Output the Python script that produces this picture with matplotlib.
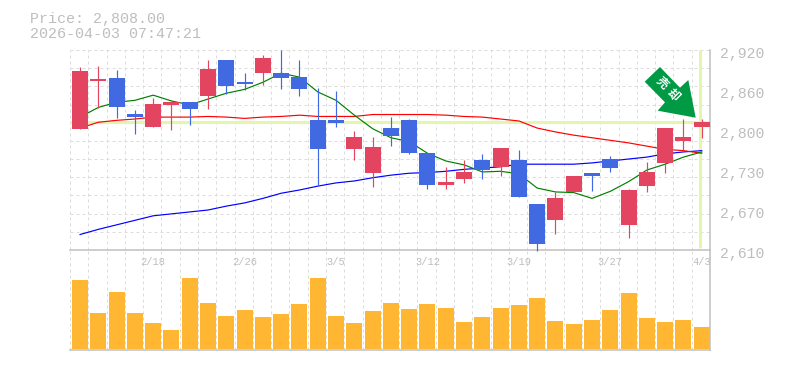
"""Candlestick chart with moving averages and a volume panel."""

import matplotlib

matplotlib.use("Agg")
import matplotlib.pyplot as plt
from matplotlib.patches import Polygon

price_label = "Price: 2,808.00"
stamp_label = "2026-04-03 07:47:21"
signal_label = "売却"

opens = [2798, 2872, 2877, 2821, 2801, 2835, 2839, 2849, 2905, 2870, 2884, 2884, 2878, 2811, 2811,
         2767, 2730, 2799, 2811, 2760, 2711, 2720, 2749, 2739, 2749, 2681, 2657, 2700, 2729, 2751,
         2649, 2709, 2745, 2779, 2801]
closes = [2888, 2875, 2832, 2816, 2836, 2839, 2829, 2891, 2864, 2867, 2907, 2877, 2860, 2767, 2807,
          2785, 2770, 2787, 2760, 2711, 2715, 2731, 2734, 2768, 2692, 2619, 2691, 2724, 2725, 2737,
          2703, 2731, 2799, 2785, 2808]
highs = [2894, 2895, 2889, 2827, 2846, 2841, 2839, 2904, 2905, 2884, 2912, 2920, 2905, 2861, 2856,
         2795, 2785, 2816, 2813, 2760, 2738, 2750, 2759, 2768, 2765, 2681, 2700, 2724, 2729, 2756,
         2705, 2746, 2799, 2813, 2813]
lows = [2798, 2830, 2814, 2790, 2801, 2796, 2804, 2829, 2852, 2858, 2866, 2860, 2849, 2710, 2801,
        2750, 2708, 2771, 2759, 2705, 2705, 2714, 2720, 2725, 2692, 2609, 2635, 2700, 2701, 2731,
        2629, 2700, 2729, 2765, 2784]

ma_short = [2816, 2831, 2839, 2842, 2850, 2841, 2835, 2844, 2853, 2859, 2870, 2884, 2878, 2855, 2842,
            2819, 2798, 2784, 2778, 2760, 2748, 2742, 2731, 2732, 2728, 2706, 2700, 2699, 2690, 2701,
            2716, 2734, 2743, 2754, 2762]
ma_mid = [2799, 2808, 2811, 2813, 2816, 2816, 2816, 2817, 2816, 2814, 2816, 2817, 2819, 2817, 2817,
          2817, 2820, 2820, 2820, 2820, 2819, 2817, 2816, 2813, 2810, 2799, 2793, 2788, 2784, 2780,
          2776, 2771, 2766, 2764, 2760]
ma_long = [2634, 2642, 2649, 2656, 2663, 2666, 2669, 2672, 2678, 2683, 2690, 2698, 2703, 2709, 2714,
           2717, 2722, 2726, 2729, 2730, 2732, 2735, 2737, 2739, 2743, 2743, 2743, 2743, 2745, 2748,
           2751, 2754, 2759, 2762, 2764]

volume = [69, 36, 57, 36, 26, 19, 71, 46, 33, 39, 32, 35, 45, 71, 33, 26, 38, 46,
          40, 45, 41, 27, 32, 41, 44, 51, 28, 25, 29, 39, 56, 31, 27, 29, 22]

price_ticks = [2920, 2860, 2800, 2730, 2670, 2610]
date_ticks = {4: "2/18", 9: "2/26", 14: "3/5", 19: "3/12", 24: "3/19", 29: "3/27", 34: "4/3"}

RED = "#E34460"
BLUE = "#4169E1"
ORANGE = "#FFB733"
GRID = "#DCDCDC"
FRAME = "#C0C0C0"
TEXT = "#BEBEBE"
MARK = "#E4F5AC"
MONO = "Liberation Mono"
ONE_PX = 0.72
DASH = (0, (3, 3))

W, H = 785, 370
LEFT, RIGHT = 70, 710

fig = plt.figure(figsize=(W / 100, H / 100), dpi=100)
ax = fig.add_axes([LEFT / W, 1 - 250 / H, (RIGHT - LEFT) / W, 200 / H])
ax_vol = fig.add_axes([LEFT / W, 1 - 350 / H, (RIGHT - LEFT) / W, 100 / H])

# candles sit a hair right of the slot centre
xlim = (-0.55, 34.45)
n = len(opens)
xs = list(range(n))

for a in (ax, ax_vol):
    a.set_xlim(*xlim)
    a.patch.set_alpha(0)
    a.tick_params(length=0, labelleft=False, labelbottom=False)
    for s in ("left", "top"):
        a.spines[s].set_visible(False)
    for s in ("right", "bottom"):
        a.spines[s].set_color(FRAME)
        a.spines[s].set_linewidth(1.1)
    for k in range(n + 1):
        a.axvline(k - 0.55, color=GRID, lw=ONE_PX, ls=DASH, zorder=0)

ax.set_ylim(2610, 2920)
for k in range(1, 11):
    ax.axhline(2610 + k * 310 / 11, color=GRID, lw=ONE_PX, ls=DASH, zorder=0)
ax.axhline(2920, color=GRID, lw=ONE_PX, ls=DASH, zorder=0, clip_on=False)

# current price cross
ax.axhline(closes[-1], color=MARK, lw=2.2, zorder=1)
ax.plot([xs[-1] - 0.07] * 2, [2613, 2920], color=MARK, lw=2.2, zorder=1, solid_capstyle="butt")

ax.plot(xs, ma_long, color="#0000FF", lw=0.85, zorder=2)
ax.plot(xs, ma_mid, color="#FF0000", lw=0.85, zorder=2)
ax.plot(xs, ma_short, color="#008000", lw=0.85, zorder=2)

for i in xs:
    col = RED if closes[i] >= opens[i] else BLUE
    ax.vlines(i, lows[i], highs[i], color=col, lw=0.85, zorder=3, clip_on=False)
    ax.bar(i, abs(closes[i] - opens[i]), bottom=min(opens[i], closes[i]), width=0.875, color=col, zorder=3)

ax_vol.set_ylim(-1.5, 98.5)
ax_vol.bar(xs, volume, width=0.875, color=ORANGE, zorder=2)

for i, lab in date_ticks.items():
    ax_vol.text(i, 86.5, lab, family=MONO, fontsize=7.5, color=TEXT, ha="center", va="center")

for i, val in enumerate(price_ticks):
    fig.text(720 / W, 1 - (54 + i * 40) / H, f"{val:,}", family=MONO, fontsize=10.7, color=TEXT, ha="left", va="center")

fig.text(30 / W, 1 - 18.5 / H, price_label, family=MONO, fontsize=10.8, color=TEXT, ha="left", va="center")
fig.text(30 / W, 1 - 33.5 / H, stamp_label, family=MONO, fontsize=10.8, color=TEXT, ha="left", va="center")

# signal arrow, in pixel space
arrow_px = [(660, 67), (680, 87.7), (688.3, 80), (695.7, 117.7), (657.7, 110.7), (665, 102.3), (644.7, 81.7)]
fig.add_artist(Polygon([(x / W, 1 - y / H) for x, y in arrow_px], closed=True, transform=fig.transFigure,
                       facecolor="#009944", edgecolor="none", zorder=5))
for ch, (px, py) in zip(signal_label, [(661.7, 83.3), (673, 95)]):
    fig.text(px / W, 1 - py / H, ch, family="Noto Sans CJK JP", fontsize=8.5, fontweight="bold", color="white",
             rotation=-45, rotation_mode="anchor", ha="center", va="center", zorder=6)

fig.savefig("out.png", dpi=100)
